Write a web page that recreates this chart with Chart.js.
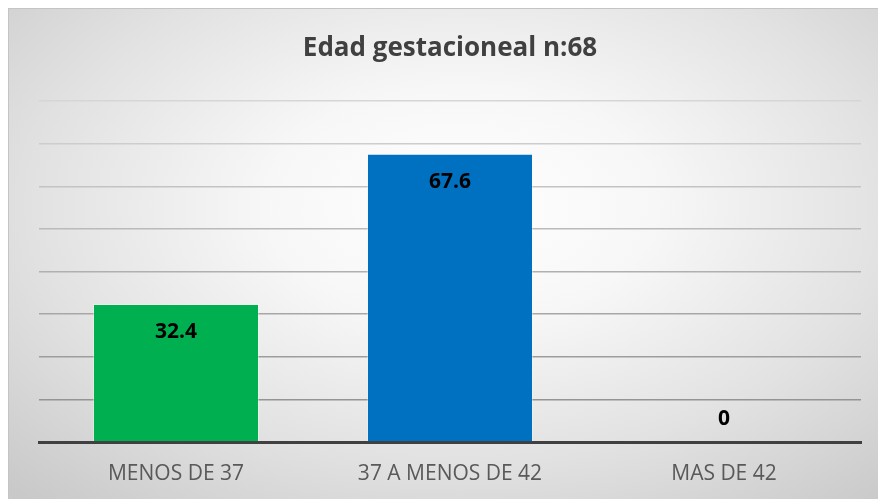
<!DOCTYPE html>
<html>
<head>
<meta charset="utf-8">
<script src="https://cdn.jsdelivr.net/npm/chart.js@4/dist/chart.umd.min.js"></script>
<style>
  html, body { margin: 0; padding: 0; background: #ffffff; }
  #wrap { position: relative; width: 878px; height: 499px; overflow: hidden; }
  #bg { position: absolute; left: 8px; top: 8px; right: 0; bottom: 0;
        background: radial-gradient(ellipse 75% 80% at 52% 40%, #ffffff 0%, #f7f7f7 30%, #e2e2e2 65%, #c9c9c9 100%);
        border-top: 1px solid #c4c4c4; border-left: 1px solid #c4c4c4; }
  canvas { position: absolute; left: 0; top: 0; }
</style>
</head>
<body>
<div id="wrap"><div id="bg"></div><canvas id="c" width="878" height="499"></canvas></div>
<script>
const chartTitle = "Edad gestacioneal n:68";
const categories = ["MENOS DE 37", "37 A MENOS DE 42", "MAS DE 42"];
const values = [32.4, 67.6, 0];
const barColors = ["#00b050", "#0070c0", "#0070c0"];
const yMax = 80;
const yStep = 10;

const labelPlugin = {
  id: 'barLabels',
  afterDatasetsDraw(chart) {
    const ctx = chart.ctx;
    const meta = chart.getDatasetMeta(0);
    ctx.save();
    ctx.font = "bold 21px 'Open Sans'";
    ctx.fillStyle = "#000000";
    ctx.textAlign = "center";
    ctx.textBaseline = "middle";
    meta.data.forEach((bar, i) => {
      const v = values[i];
      const y = v > 0 ? bar.y + 28 : bar.y - 23;
      ctx.fillText(String(v), bar.x, y);
    });
    ctx.restore();
  }
};

const titlePlugin = {
  id: 'customTitle',
  afterDraw(chart) {
    const ctx = chart.ctx;
    ctx.save();
    ctx.font = "bold 26px 'Open Sans'";
    ctx.fillStyle = "#404040";
    ctx.textAlign = "center";
    ctx.textBaseline = "middle";
    ctx.fillText(chartTitle, 450, 49);
    ctx.restore();
  }
};

new Chart(document.getElementById('c'), {
  type: 'bar',
  data: {
    labels: categories,
    datasets: [{
      data: values,
      backgroundColor: barColors,
      borderColor: "rgba(255,255,255,0.35)",
      borderWidth: 1,
      barPercentage: 0.606,
      categoryPercentage: 1.0
    }]
  },
  options: {
    responsive: false,
    animation: false,
    layout: { padding: { left: 39, right: 17, top: 101, bottom: 0 } },
    plugins: { legend: { display: false }, title: { display: false }, tooltip: { enabled: false } },
    scales: {
      x: {
        grid: { display: false, drawTicks: false },
        border: { display: true, color: "#404040", width: 3 },
        ticks: { color: "#595959", font: { family: "'Open Sans'", size: 21 }, padding: 19 },
        afterFit(s) { s.height = 57; }
      },
      y: {
        min: 0, max: yMax,
        ticks: { display: false, stepSize: yStep },
        border: { display: false },
        grid: {
          drawTicks: false,
          lineWidth: 1.5,
          color(ctx) {
            const v = ctx.tick ? ctx.tick.value : 0;
            if (v === 0) return "rgba(0,0,0,0)";
            const t = v / yMax;
            const c = Math.round(0x8a + (0xd6 - 0x8a) * t);
            return `rgb(${c},${c},${c})`;
          }
        },
        afterFit(s) { s.width = 0; }
      }
    }
  },
  plugins: [labelPlugin, titlePlugin]
});
</script>
</body>
</html>
